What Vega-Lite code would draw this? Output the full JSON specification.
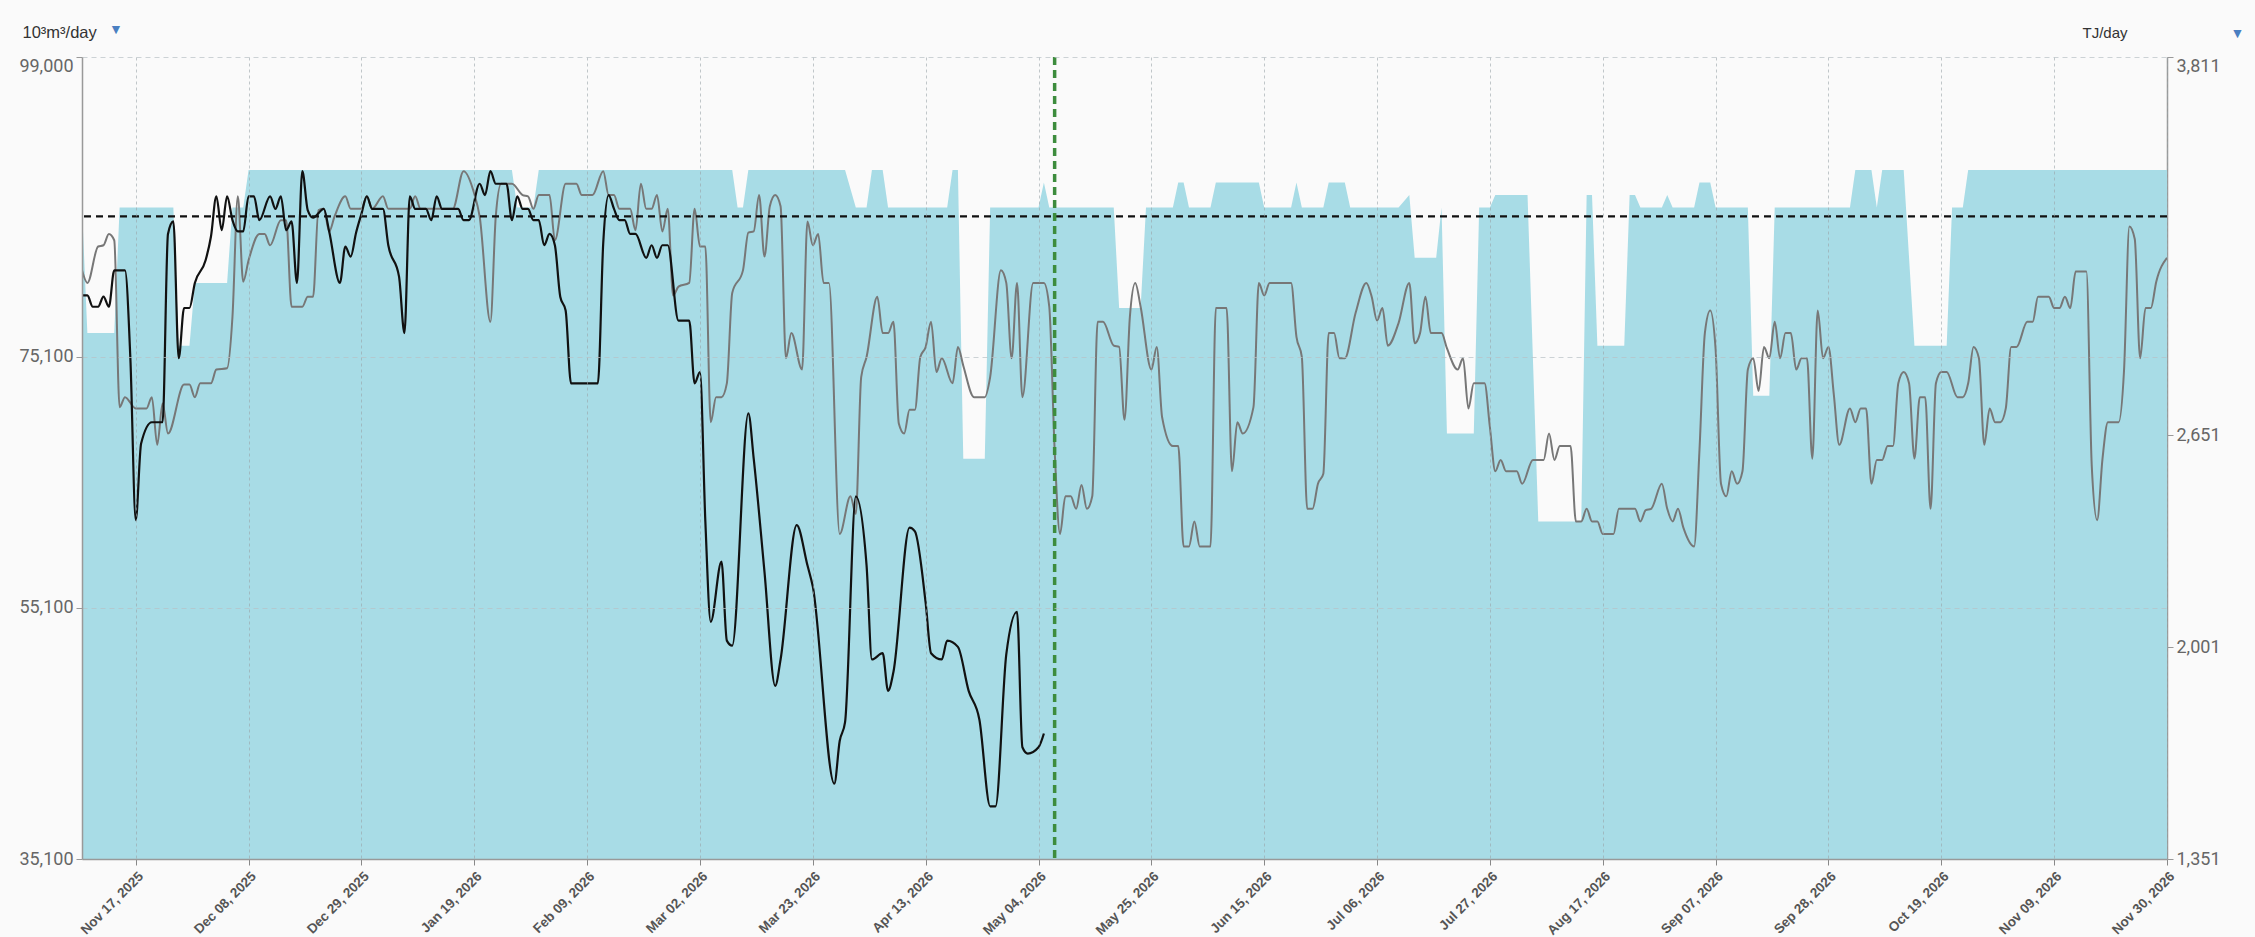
{
  "$schema": "https://vega.github.io/schema/vega-lite/v6.json",
  "width": 2085,
  "height": 802,
  "autosize": {"type": "none"},
  "padding": {"left": 82, "top": 57, "right": 88, "bottom": 78},
  "background": "#fafafa",
  "config": {"view": {"stroke": null}},
  "title": {"text": "▼", "anchor": "start", "frame": "group", "color": "#4a7fc1", "fontSize": 14, "fontWeight": "normal", "dx": 27, "dy": 17},
  "datasets": {
    "cap": [
      {"date": "2025-11-07", "value": 87000}, {"date": "2025-11-08", "value": 77000}, {"date": "2025-11-13", "value": 77000}, {"date": "2025-11-14", "value": 87000},
      {"date": "2025-11-24", "value": 87000}, {"date": "2025-11-25", "value": 76000}, {"date": "2025-11-27", "value": 76000}, {"date": "2025-11-28", "value": 81000},
      {"date": "2025-12-04", "value": 81000}, {"date": "2025-12-05", "value": 87000}, {"date": "2025-12-07", "value": 87000}, {"date": "2025-12-08", "value": 90000},
      {"date": "2026-01-26", "value": 90000}, {"date": "2026-01-27", "value": 87000}, {"date": "2026-01-30", "value": 87000}, {"date": "2026-01-31", "value": 90000},
      {"date": "2026-03-08", "value": 90000}, {"date": "2026-03-09", "value": 87000}, {"date": "2026-03-10", "value": 87000}, {"date": "2026-03-11", "value": 90000},
      {"date": "2026-03-29", "value": 90000}, {"date": "2026-03-31", "value": 87000}, {"date": "2026-04-02", "value": 87000}, {"date": "2026-04-03", "value": 90000},
      {"date": "2026-04-05", "value": 90000}, {"date": "2026-04-06", "value": 87000}, {"date": "2026-04-17", "value": 87000}, {"date": "2026-04-18", "value": 90000},
      {"date": "2026-04-19", "value": 90000}, {"date": "2026-04-20", "value": 67000}, {"date": "2026-04-24", "value": 67000}, {"date": "2026-04-25", "value": 87000},
      {"date": "2026-05-04", "value": 87000}, {"date": "2026-05-05", "value": 89000}, {"date": "2026-05-06", "value": 87000}, {"date": "2026-05-18", "value": 87000},
      {"date": "2026-05-19", "value": 79000}, {"date": "2026-05-23", "value": 79000}, {"date": "2026-05-24", "value": 87000}, {"date": "2026-05-29", "value": 87000},
      {"date": "2026-05-30", "value": 89000}, {"date": "2026-05-31", "value": 89000}, {"date": "2026-06-01", "value": 87000}, {"date": "2026-06-05", "value": 87000},
      {"date": "2026-06-06", "value": 89000}, {"date": "2026-06-14", "value": 89000}, {"date": "2026-06-15", "value": 87000}, {"date": "2026-06-20", "value": 87000},
      {"date": "2026-06-21", "value": 89000}, {"date": "2026-06-22", "value": 87000}, {"date": "2026-06-26", "value": 87000}, {"date": "2026-06-27", "value": 89000},
      {"date": "2026-06-30", "value": 89000}, {"date": "2026-07-01", "value": 87000}, {"date": "2026-07-10", "value": 87000}, {"date": "2026-07-12", "value": 88000},
      {"date": "2026-07-13", "value": 83000}, {"date": "2026-07-17", "value": 83000}, {"date": "2026-07-18", "value": 87000}, {"date": "2026-07-19", "value": 69000},
      {"date": "2026-07-24", "value": 69000}, {"date": "2026-07-25", "value": 87000}, {"date": "2026-07-27", "value": 87000}, {"date": "2026-07-28", "value": 88000},
      {"date": "2026-08-03", "value": 88000}, {"date": "2026-08-05", "value": 62000}, {"date": "2026-08-13", "value": 62000}, {"date": "2026-08-14", "value": 88000},
      {"date": "2026-08-15", "value": 88000}, {"date": "2026-08-16", "value": 76000}, {"date": "2026-08-21", "value": 76000}, {"date": "2026-08-22", "value": 88000},
      {"date": "2026-08-23", "value": 88000}, {"date": "2026-08-24", "value": 87000}, {"date": "2026-08-28", "value": 87000}, {"date": "2026-08-29", "value": 88000},
      {"date": "2026-08-30", "value": 87000}, {"date": "2026-09-03", "value": 87000}, {"date": "2026-09-04", "value": 89000}, {"date": "2026-09-06", "value": 89000},
      {"date": "2026-09-07", "value": 87000}, {"date": "2026-09-13", "value": 87000}, {"date": "2026-09-14", "value": 72000}, {"date": "2026-09-17", "value": 72000},
      {"date": "2026-09-18", "value": 87000}, {"date": "2026-10-02", "value": 87000}, {"date": "2026-10-03", "value": 90000}, {"date": "2026-10-06", "value": 90000},
      {"date": "2026-10-07", "value": 87000}, {"date": "2026-10-08", "value": 90000}, {"date": "2026-10-12", "value": 90000}, {"date": "2026-10-14", "value": 76000},
      {"date": "2026-10-20", "value": 76000}, {"date": "2026-10-21", "value": 87000}, {"date": "2026-10-23", "value": 87000}, {"date": "2026-10-24", "value": 90000},
      {"date": "2026-11-30", "value": 90000}
    ],
    "grey": [
      {"date": "2025-11-07", "value": 82000}, {"date": "2025-11-08", "value": 81000}, {"date": "2025-11-10", "value": 83900}, {"date": "2025-11-11", "value": 84000},
      {"date": "2025-11-12", "value": 84900}, {"date": "2025-11-13", "value": 84400}, {"date": "2025-11-14", "value": 71100}, {"date": "2025-11-15", "value": 71900},
      {"date": "2025-11-17", "value": 71000}, {"date": "2025-11-19", "value": 71000}, {"date": "2025-11-20", "value": 71900}, {"date": "2025-11-21", "value": 68100},
      {"date": "2025-11-22", "value": 71400}, {"date": "2025-11-23", "value": 69000}, {"date": "2025-11-26", "value": 72900}, {"date": "2025-11-27", "value": 72900},
      {"date": "2025-11-28", "value": 71900}, {"date": "2025-11-29", "value": 73000}, {"date": "2025-12-01", "value": 73000}, {"date": "2025-12-02", "value": 74100},
      {"date": "2025-12-04", "value": 74200}, {"date": "2025-12-05", "value": 78300}, {"date": "2025-12-06", "value": 87900}, {"date": "2025-12-07", "value": 81100},
      {"date": "2025-12-08", "value": 82800}, {"date": "2025-12-10", "value": 84900}, {"date": "2025-12-11", "value": 84900}, {"date": "2025-12-12", "value": 84000},
      {"date": "2025-12-14", "value": 86000}, {"date": "2025-12-15", "value": 86000}, {"date": "2025-12-16", "value": 79100}, {"date": "2025-12-18", "value": 79100},
      {"date": "2025-12-19", "value": 79900}, {"date": "2025-12-20", "value": 79900}, {"date": "2025-12-21", "value": 86800}, {"date": "2025-12-22", "value": 86900},
      {"date": "2025-12-23", "value": 85100}, {"date": "2025-12-24", "value": 86300}, {"date": "2025-12-26", "value": 87900}, {"date": "2025-12-27", "value": 86900},
      {"date": "2025-12-29", "value": 86900}, {"date": "2025-12-30", "value": 87900}, {"date": "2025-12-31", "value": 86900}, {"date": "2026-01-02", "value": 87900},
      {"date": "2026-01-03", "value": 86900}, {"date": "2026-01-07", "value": 86900}, {"date": "2026-01-08", "value": 87900}, {"date": "2026-01-09", "value": 86900},
      {"date": "2026-01-15", "value": 86900}, {"date": "2026-01-17", "value": 89900}, {"date": "2026-01-19", "value": 88100}, {"date": "2026-01-20", "value": 86300},
      {"date": "2026-01-22", "value": 77900}, {"date": "2026-01-23", "value": 86300}, {"date": "2026-01-24", "value": 88900}, {"date": "2026-01-26", "value": 88900},
      {"date": "2026-01-28", "value": 88000}, {"date": "2026-01-29", "value": 87900}, {"date": "2026-01-30", "value": 86900}, {"date": "2026-01-31", "value": 88000},
      {"date": "2026-02-02", "value": 88000}, {"date": "2026-02-03", "value": 84400}, {"date": "2026-02-05", "value": 88900}, {"date": "2026-02-07", "value": 88900},
      {"date": "2026-02-08", "value": 88000}, {"date": "2026-02-10", "value": 88000}, {"date": "2026-02-12", "value": 89900}, {"date": "2026-02-13", "value": 88000},
      {"date": "2026-02-14", "value": 88000}, {"date": "2026-02-15", "value": 86900}, {"date": "2026-02-17", "value": 86900}, {"date": "2026-02-18", "value": 85200},
      {"date": "2026-02-19", "value": 88900}, {"date": "2026-02-20", "value": 86900}, {"date": "2026-02-21", "value": 86900}, {"date": "2026-02-22", "value": 88000},
      {"date": "2026-02-23", "value": 85100}, {"date": "2026-02-24", "value": 86900}, {"date": "2026-02-25", "value": 80000}, {"date": "2026-02-26", "value": 80700},
      {"date": "2026-02-28", "value": 81000}, {"date": "2026-03-01", "value": 86900}, {"date": "2026-03-02", "value": 83900}, {"date": "2026-03-03", "value": 83900},
      {"date": "2026-03-04", "value": 69900}, {"date": "2026-03-05", "value": 71900}, {"date": "2026-03-06", "value": 71900}, {"date": "2026-03-07", "value": 73000},
      {"date": "2026-03-08", "value": 80200}, {"date": "2026-03-10", "value": 82000}, {"date": "2026-03-11", "value": 85000}, {"date": "2026-03-12", "value": 85100},
      {"date": "2026-03-13", "value": 88000}, {"date": "2026-03-14", "value": 83100}, {"date": "2026-03-15", "value": 87100}, {"date": "2026-03-16", "value": 88000},
      {"date": "2026-03-17", "value": 87100}, {"date": "2026-03-18", "value": 75000}, {"date": "2026-03-19", "value": 77000}, {"date": "2026-03-21", "value": 74100},
      {"date": "2026-03-22", "value": 85900}, {"date": "2026-03-23", "value": 84000}, {"date": "2026-03-24", "value": 84900}, {"date": "2026-03-25", "value": 81000},
      {"date": "2026-03-26", "value": 81000}, {"date": "2026-03-28", "value": 61000}, {"date": "2026-03-30", "value": 64000}, {"date": "2026-03-31", "value": 62600},
      {"date": "2026-04-01", "value": 73500}, {"date": "2026-04-02", "value": 75100}, {"date": "2026-04-04", "value": 79900}, {"date": "2026-04-05", "value": 77000},
      {"date": "2026-04-06", "value": 77000}, {"date": "2026-04-07", "value": 77900}, {"date": "2026-04-08", "value": 69800}, {"date": "2026-04-09", "value": 69000},
      {"date": "2026-04-10", "value": 70900}, {"date": "2026-04-11", "value": 70900}, {"date": "2026-04-12", "value": 75100}, {"date": "2026-04-13", "value": 75900},
      {"date": "2026-04-14", "value": 77900}, {"date": "2026-04-15", "value": 73900}, {"date": "2026-04-16", "value": 75000}, {"date": "2026-04-18", "value": 73000},
      {"date": "2026-04-19", "value": 75900}, {"date": "2026-04-20", "value": 74400}, {"date": "2026-04-22", "value": 71900}, {"date": "2026-04-24", "value": 71900},
      {"date": "2026-04-25", "value": 73500}, {"date": "2026-04-27", "value": 82000}, {"date": "2026-04-28", "value": 81000}, {"date": "2026-04-29", "value": 75000},
      {"date": "2026-04-30", "value": 81000}, {"date": "2026-05-01", "value": 71900}, {"date": "2026-05-03", "value": 81000}, {"date": "2026-05-05", "value": 81000},
      {"date": "2026-05-06", "value": 79100}, {"date": "2026-05-07", "value": 67700}, {"date": "2026-05-08", "value": 61000}, {"date": "2026-05-09", "value": 64000},
      {"date": "2026-05-10", "value": 64000}, {"date": "2026-05-11", "value": 63000}, {"date": "2026-05-12", "value": 64900}, {"date": "2026-05-13", "value": 63000},
      {"date": "2026-05-14", "value": 64000}, {"date": "2026-05-15", "value": 77900}, {"date": "2026-05-16", "value": 77900}, {"date": "2026-05-18", "value": 76000},
      {"date": "2026-05-19", "value": 75900}, {"date": "2026-05-20", "value": 70100}, {"date": "2026-05-21", "value": 78300}, {"date": "2026-05-22", "value": 81000},
      {"date": "2026-05-23", "value": 79100}, {"date": "2026-05-25", "value": 74100}, {"date": "2026-05-26", "value": 75900}, {"date": "2026-05-27", "value": 70300},
      {"date": "2026-05-29", "value": 68000}, {"date": "2026-05-30", "value": 68000}, {"date": "2026-05-31", "value": 60000}, {"date": "2026-06-01", "value": 60000},
      {"date": "2026-06-02", "value": 62000}, {"date": "2026-06-03", "value": 60000}, {"date": "2026-06-05", "value": 60000}, {"date": "2026-06-06", "value": 79000},
      {"date": "2026-06-08", "value": 79000}, {"date": "2026-06-09", "value": 66000}, {"date": "2026-06-10", "value": 69900}, {"date": "2026-06-11", "value": 69000},
      {"date": "2026-06-13", "value": 71100}, {"date": "2026-06-14", "value": 81000}, {"date": "2026-06-15", "value": 80000}, {"date": "2026-06-16", "value": 81000},
      {"date": "2026-06-20", "value": 81000}, {"date": "2026-06-21", "value": 76700}, {"date": "2026-06-22", "value": 75100}, {"date": "2026-06-23", "value": 63000},
      {"date": "2026-06-24", "value": 63000}, {"date": "2026-06-25", "value": 65000}, {"date": "2026-06-26", "value": 65800}, {"date": "2026-06-27", "value": 77000},
      {"date": "2026-06-28", "value": 77000}, {"date": "2026-06-29", "value": 75000}, {"date": "2026-06-30", "value": 75000}, {"date": "2026-07-02", "value": 78600},
      {"date": "2026-07-04", "value": 81000}, {"date": "2026-07-05", "value": 79900}, {"date": "2026-07-06", "value": 78000}, {"date": "2026-07-07", "value": 79000},
      {"date": "2026-07-08", "value": 76000}, {"date": "2026-07-10", "value": 77800}, {"date": "2026-07-12", "value": 81000}, {"date": "2026-07-13", "value": 76200},
      {"date": "2026-07-14", "value": 77000}, {"date": "2026-07-15", "value": 79900}, {"date": "2026-07-16", "value": 77000}, {"date": "2026-07-18", "value": 77000},
      {"date": "2026-07-19", "value": 75800}, {"date": "2026-07-21", "value": 74100}, {"date": "2026-07-22", "value": 75000}, {"date": "2026-07-23", "value": 71000},
      {"date": "2026-07-24", "value": 73000}, {"date": "2026-07-26", "value": 73000}, {"date": "2026-07-27", "value": 69500}, {"date": "2026-07-28", "value": 66000},
      {"date": "2026-07-29", "value": 66900}, {"date": "2026-07-30", "value": 66000}, {"date": "2026-08-01", "value": 66000}, {"date": "2026-08-02", "value": 65000},
      {"date": "2026-08-04", "value": 66900}, {"date": "2026-08-06", "value": 66900}, {"date": "2026-08-07", "value": 69000}, {"date": "2026-08-08", "value": 66900},
      {"date": "2026-08-09", "value": 68000}, {"date": "2026-08-11", "value": 68000}, {"date": "2026-08-12", "value": 62000}, {"date": "2026-08-13", "value": 62000},
      {"date": "2026-08-14", "value": 63000}, {"date": "2026-08-15", "value": 62000}, {"date": "2026-08-16", "value": 62000}, {"date": "2026-08-17", "value": 61000},
      {"date": "2026-08-19", "value": 61000}, {"date": "2026-08-20", "value": 63000}, {"date": "2026-08-23", "value": 63000}, {"date": "2026-08-24", "value": 62000},
      {"date": "2026-08-25", "value": 62900}, {"date": "2026-08-26", "value": 63000}, {"date": "2026-08-28", "value": 65000}, {"date": "2026-08-29", "value": 63000},
      {"date": "2026-08-30", "value": 62000}, {"date": "2026-08-31", "value": 63000}, {"date": "2026-09-01", "value": 61500}, {"date": "2026-09-03", "value": 60000},
      {"date": "2026-09-04", "value": 67700}, {"date": "2026-09-05", "value": 77000}, {"date": "2026-09-06", "value": 78800}, {"date": "2026-09-07", "value": 75700},
      {"date": "2026-09-08", "value": 65000}, {"date": "2026-09-09", "value": 64000}, {"date": "2026-09-10", "value": 66000}, {"date": "2026-09-11", "value": 65000},
      {"date": "2026-09-12", "value": 66000}, {"date": "2026-09-13", "value": 74100}, {"date": "2026-09-14", "value": 75000}, {"date": "2026-09-15", "value": 72400},
      {"date": "2026-09-16", "value": 75900}, {"date": "2026-09-17", "value": 75000}, {"date": "2026-09-18", "value": 77900}, {"date": "2026-09-19", "value": 75000},
      {"date": "2026-09-20", "value": 77000}, {"date": "2026-09-21", "value": 77000}, {"date": "2026-09-22", "value": 74100}, {"date": "2026-09-23", "value": 75000},
      {"date": "2026-09-24", "value": 75000}, {"date": "2026-09-25", "value": 67000}, {"date": "2026-09-26", "value": 78800}, {"date": "2026-09-27", "value": 75000},
      {"date": "2026-09-28", "value": 75900}, {"date": "2026-09-29", "value": 72100}, {"date": "2026-09-30", "value": 68100}, {"date": "2026-10-02", "value": 71000},
      {"date": "2026-10-03", "value": 69900}, {"date": "2026-10-04", "value": 71000}, {"date": "2026-10-05", "value": 71000}, {"date": "2026-10-06", "value": 65000},
      {"date": "2026-10-07", "value": 66900}, {"date": "2026-10-08", "value": 66900}, {"date": "2026-10-09", "value": 68000}, {"date": "2026-10-10", "value": 68000},
      {"date": "2026-10-11", "value": 73000}, {"date": "2026-10-12", "value": 73900}, {"date": "2026-10-13", "value": 73000}, {"date": "2026-10-14", "value": 67000},
      {"date": "2026-10-15", "value": 71900}, {"date": "2026-10-16", "value": 71900}, {"date": "2026-10-17", "value": 63000}, {"date": "2026-10-18", "value": 73000},
      {"date": "2026-10-19", "value": 73900}, {"date": "2026-10-20", "value": 73900}, {"date": "2026-10-22", "value": 71900}, {"date": "2026-10-23", "value": 71900},
      {"date": "2026-10-24", "value": 73000}, {"date": "2026-10-25", "value": 75900}, {"date": "2026-10-26", "value": 75000}, {"date": "2026-10-27", "value": 68100},
      {"date": "2026-10-28", "value": 71000}, {"date": "2026-10-29", "value": 69900}, {"date": "2026-10-30", "value": 69900}, {"date": "2026-10-31", "value": 71000},
      {"date": "2026-11-01", "value": 75900}, {"date": "2026-11-02", "value": 75900}, {"date": "2026-11-04", "value": 77900}, {"date": "2026-11-05", "value": 77900},
      {"date": "2026-11-06", "value": 79900}, {"date": "2026-11-08", "value": 79900}, {"date": "2026-11-09", "value": 79000}, {"date": "2026-11-10", "value": 79000},
      {"date": "2026-11-11", "value": 79900}, {"date": "2026-11-12", "value": 79000}, {"date": "2026-11-13", "value": 81900}, {"date": "2026-11-15", "value": 81900},
      {"date": "2026-11-16", "value": 66400}, {"date": "2026-11-17", "value": 62100}, {"date": "2026-11-18", "value": 67000}, {"date": "2026-11-19", "value": 69900},
      {"date": "2026-11-21", "value": 69900}, {"date": "2026-11-22", "value": 74000}, {"date": "2026-11-23", "value": 85500}, {"date": "2026-11-24", "value": 84500},
      {"date": "2026-11-25", "value": 75000}, {"date": "2026-11-26", "value": 79000}, {"date": "2026-11-27", "value": 79000}, {"date": "2026-11-28", "value": 81100},
      {"date": "2026-11-30", "value": 83000}
    ],
    "black": [
      {"date": "2025-11-07", "value": 80000}, {"date": "2025-11-08", "value": 80000}, {"date": "2025-11-09", "value": 79100}, {"date": "2025-11-10", "value": 79100},
      {"date": "2025-11-11", "value": 79900}, {"date": "2025-11-12", "value": 79100}, {"date": "2025-11-13", "value": 82000}, {"date": "2025-11-15", "value": 82000},
      {"date": "2025-11-16", "value": 75000}, {"date": "2025-11-17", "value": 62100}, {"date": "2025-11-18", "value": 68200}, {"date": "2025-11-20", "value": 69900},
      {"date": "2025-11-22", "value": 69900}, {"date": "2025-11-23", "value": 84900}, {"date": "2025-11-24", "value": 85900}, {"date": "2025-11-25", "value": 75000},
      {"date": "2025-11-26", "value": 79000}, {"date": "2025-11-27", "value": 79000}, {"date": "2025-11-28", "value": 81000}, {"date": "2025-11-30", "value": 82800},
      {"date": "2025-12-01", "value": 84700}, {"date": "2025-12-02", "value": 87900}, {"date": "2025-12-03", "value": 85200}, {"date": "2025-12-04", "value": 87900},
      {"date": "2025-12-05", "value": 86000}, {"date": "2025-12-06", "value": 85100}, {"date": "2025-12-07", "value": 85100}, {"date": "2025-12-08", "value": 87900},
      {"date": "2025-12-09", "value": 87900}, {"date": "2025-12-10", "value": 86000}, {"date": "2025-12-12", "value": 87900}, {"date": "2025-12-13", "value": 86900},
      {"date": "2025-12-14", "value": 87900}, {"date": "2025-12-15", "value": 85200}, {"date": "2025-12-16", "value": 85900}, {"date": "2025-12-17", "value": 81000},
      {"date": "2025-12-18", "value": 89900}, {"date": "2025-12-19", "value": 86800}, {"date": "2025-12-20", "value": 86200}, {"date": "2025-12-22", "value": 86900},
      {"date": "2025-12-23", "value": 85100}, {"date": "2025-12-25", "value": 81000}, {"date": "2025-12-26", "value": 83900}, {"date": "2025-12-27", "value": 83100},
      {"date": "2025-12-28", "value": 85000}, {"date": "2025-12-29", "value": 86500}, {"date": "2025-12-30", "value": 87900}, {"date": "2025-12-31", "value": 86900},
      {"date": "2026-01-02", "value": 86900}, {"date": "2026-01-03", "value": 84000}, {"date": "2026-01-05", "value": 81500}, {"date": "2026-01-06", "value": 77000},
      {"date": "2026-01-07", "value": 87900}, {"date": "2026-01-08", "value": 86900}, {"date": "2026-01-10", "value": 86900}, {"date": "2026-01-11", "value": 86000},
      {"date": "2026-01-12", "value": 87900}, {"date": "2026-01-13", "value": 86900}, {"date": "2026-01-16", "value": 86900}, {"date": "2026-01-17", "value": 86000},
      {"date": "2026-01-18", "value": 86000}, {"date": "2026-01-20", "value": 88900}, {"date": "2026-01-21", "value": 88000}, {"date": "2026-01-22", "value": 89900},
      {"date": "2026-01-23", "value": 88900}, {"date": "2026-01-25", "value": 88900}, {"date": "2026-01-26", "value": 86000}, {"date": "2026-01-27", "value": 87900},
      {"date": "2026-01-28", "value": 86900}, {"date": "2026-01-29", "value": 86900}, {"date": "2026-01-30", "value": 86000}, {"date": "2026-01-31", "value": 86000},
      {"date": "2026-02-01", "value": 84000}, {"date": "2026-02-02", "value": 84900}, {"date": "2026-02-03", "value": 84000}, {"date": "2026-02-04", "value": 79900},
      {"date": "2026-02-05", "value": 78800}, {"date": "2026-02-06", "value": 73000}, {"date": "2026-02-11", "value": 73000}, {"date": "2026-02-12", "value": 84200},
      {"date": "2026-02-13", "value": 88000}, {"date": "2026-02-14", "value": 86900}, {"date": "2026-02-15", "value": 86000}, {"date": "2026-02-16", "value": 86000},
      {"date": "2026-02-17", "value": 84900}, {"date": "2026-02-18", "value": 84900}, {"date": "2026-02-20", "value": 83000}, {"date": "2026-02-21", "value": 84000},
      {"date": "2026-02-22", "value": 83000}, {"date": "2026-02-23", "value": 84000}, {"date": "2026-02-24", "value": 84000}, {"date": "2026-02-26", "value": 78000},
      {"date": "2026-02-28", "value": 78000}, {"date": "2026-03-01", "value": 73000}, {"date": "2026-03-02", "value": 73900}, {"date": "2026-03-03", "value": 62000},
      {"date": "2026-03-04", "value": 54000}, {"date": "2026-03-06", "value": 58800}, {"date": "2026-03-07", "value": 52500}, {"date": "2026-03-08", "value": 52100},
      {"date": "2026-03-11", "value": 70600}, {"date": "2026-03-12", "value": 67000}, {"date": "2026-03-14", "value": 58000}, {"date": "2026-03-16", "value": 48900},
      {"date": "2026-03-17", "value": 51000}, {"date": "2026-03-20", "value": 61700}, {"date": "2026-03-22", "value": 58500}, {"date": "2026-03-23", "value": 56800},
      {"date": "2026-03-27", "value": 41100}, {"date": "2026-03-28", "value": 44500}, {"date": "2026-03-29", "value": 46000}, {"date": "2026-03-31", "value": 64000},
      {"date": "2026-04-02", "value": 58500}, {"date": "2026-04-03", "value": 51000}, {"date": "2026-04-05", "value": 51500}, {"date": "2026-04-06", "value": 48500},
      {"date": "2026-04-07", "value": 50000}, {"date": "2026-04-10", "value": 61500}, {"date": "2026-04-11", "value": 61200}, {"date": "2026-04-13", "value": 55500},
      {"date": "2026-04-14", "value": 51500}, {"date": "2026-04-16", "value": 51000}, {"date": "2026-04-17", "value": 52500}, {"date": "2026-04-19", "value": 52000},
      {"date": "2026-04-21", "value": 48500}, {"date": "2026-04-23", "value": 46200}, {"date": "2026-04-25", "value": 39300}, {"date": "2026-04-26", "value": 39300},
      {"date": "2026-04-28", "value": 51400}, {"date": "2026-04-30", "value": 54800}, {"date": "2026-05-01", "value": 44000}, {"date": "2026-05-02", "value": 43500},
      {"date": "2026-05-04", "value": 44000}, {"date": "2026-05-05", "value": 45100}
    ],
    "ref": [{"value": 86300}],
    "today": [{"date": "2026-05-07"}],
    "tj": [{"tj": 1351}, {"tj": 3811}]
  },
  "layer": [
    {
      "layer": [
        {
          "data": {"name": "cap"},
          "mark": {"type": "area", "color": "#a8dce6", "interpolate": "linear", "clip": true},
          "encoding": {
            "x": {
              "field": "date", "type": "temporal",
              "scale": {"type": "utc", "domain": [{"year": 2025, "month": 11, "date": 7, "utc": true}, {"year": 2026, "month": 11, "date": 30, "utc": true}]},
              "axis": {
                "values": [
                  {"year": 2025, "month": 11, "date": 17, "utc": true}, {"year": 2025, "month": 12, "date": 8, "utc": true}, {"year": 2025, "month": 12, "date": 29, "utc": true},
                  {"year": 2026, "month": 1, "date": 19, "utc": true}, {"year": 2026, "month": 2, "date": 9, "utc": true}, {"year": 2026, "month": 3, "date": 2, "utc": true},
                  {"year": 2026, "month": 3, "date": 23, "utc": true}, {"year": 2026, "month": 4, "date": 13, "utc": true}, {"year": 2026, "month": 5, "date": 4, "utc": true},
                  {"year": 2026, "month": 5, "date": 25, "utc": true}, {"year": 2026, "month": 6, "date": 15, "utc": true}, {"year": 2026, "month": 7, "date": 6, "utc": true},
                  {"year": 2026, "month": 7, "date": 27, "utc": true}, {"year": 2026, "month": 8, "date": 17, "utc": true}, {"year": 2026, "month": 9, "date": 7, "utc": true},
                  {"year": 2026, "month": 9, "date": 28, "utc": true}, {"year": 2026, "month": 10, "date": 19, "utc": true}, {"year": 2026, "month": 11, "date": 9, "utc": true},
                  {"year": 2026, "month": 11, "date": 30, "utc": true}
                ],
                "format": "%b %d, %Y",
                "labelAngle": -45, "labelFont": "Liberation Sans", "labelFontWeight": "bold", "labelFontSize": 13.5, "labelColor": "#555",
                "labelFlush": false, "labelOverlap": false, "labelBound": false, "labelPadding": 4,
                "tickColor": "#888", "tickSize": 6, "domainColor": "#999", "domainWidth": 1.5,
                "grid": true, "gridColor": "#9aa4a8", "gridOpacity": 0.6, "gridDash": [3, 3],
                "title": "▼", "titleColor": "#4a7fc1", "titleFontSize": 14, "titleFontWeight": "normal",
                "titleX": 2155, "titleY": -822, "titleAlign": "center", "titleBaseline": "alphabetic", "titleAngle": 0,
                "zindex": 1
              }
            },
            "y": {
              "field": "value", "type": "quantitative",
              "scale": {"domain": [35100, 99000], "zero": false, "nice": false},
              "axis": {
                "values": [35100, 55100, 75100, 99000], "format": ",d",
                "labelFont": "Roboto", "labelFontSize": 18, "labelColor": "#666", "labelPadding": 3,
                "labelBaseline": {"condition": {"test": "datum.value >= 99000", "value": "top"}, "value": "middle"},
                "domainColor": "#999", "domainWidth": 1.5, "tickColor": "#999", "tickSize": 6,
                "grid": true, "gridColor": "#b8c0c4", "gridOpacity": 0.7, "gridDash": [5, 4],
                "title": "10³m³/day", "titleAngle": 0, "titleAlign": "left", "titleBaseline": "alphabetic",
                "titleX": -60, "titleY": -20, "titleFont": "Liberation Sans", "titleFontSize": 16.5, "titleFontWeight": "normal", "titleColor": "#333",
                "zindex": 1
              }
            }
          }
        },
        {
          "data": {"name": "grey"},
          "mark": {"type": "line", "color": "#777777", "strokeWidth": 2, "interpolate": "monotone", "clip": true},
          "encoding": {
            "x": {"field": "date", "type": "temporal"},
            "y": {"field": "value", "type": "quantitative"}
          }
        },
        {
          "data": {"name": "black"},
          "mark": {"type": "line", "color": "#111111", "strokeWidth": 2.2, "interpolate": "monotone", "clip": true},
          "encoding": {
            "x": {"field": "date", "type": "temporal"},
            "y": {"field": "value", "type": "quantitative"}
          }
        },
        {
          "data": {"name": "ref"},
          "mark": {"type": "rule", "color": "#111111", "strokeWidth": 2.2, "strokeDash": [7, 5]},
          "encoding": {"y": {"field": "value", "type": "quantitative"}}
        },
        {
          "data": {"name": "today"},
          "mark": {"type": "rule", "color": "#3d8c3d", "strokeWidth": 3.5, "strokeDash": [8, 5]},
          "encoding": {"x": {"field": "date", "type": "temporal"}}
        }
      ]
    },
    {
      "data": {"name": "tj"},
      "mark": {"type": "point", "opacity": 0},
      "encoding": {
        "y": {
          "field": "tj", "type": "quantitative",
          "scale": {"domain": [1351, 3811], "zero": false, "nice": false},
          "axis": {
            "orient": "right", "values": [1351, 2001, 2651, 3811], "format": ",d",
            "labelFont": "Roboto", "labelFontSize": 18, "labelColor": "#666", "labelPadding": 3,
            "labelBaseline": {"condition": {"test": "datum.value >= 3811", "value": "top"}, "value": "middle"},
            "domainColor": "#999", "domainWidth": 1.5, "tickColor": "#999", "tickSize": 6, "grid": false,
            "title": "TJ/day", "titleAngle": 0, "titleAlign": "left", "titleBaseline": "alphabetic",
            "titleX": -85, "titleY": -20, "titleFont": "Liberation Sans", "titleFontSize": 15, "titleFontWeight": "normal", "titleColor": "#333"
          }
        }
      }
    }
  ],
  "resolve": {"scale": {"y": "independent"}}
}
